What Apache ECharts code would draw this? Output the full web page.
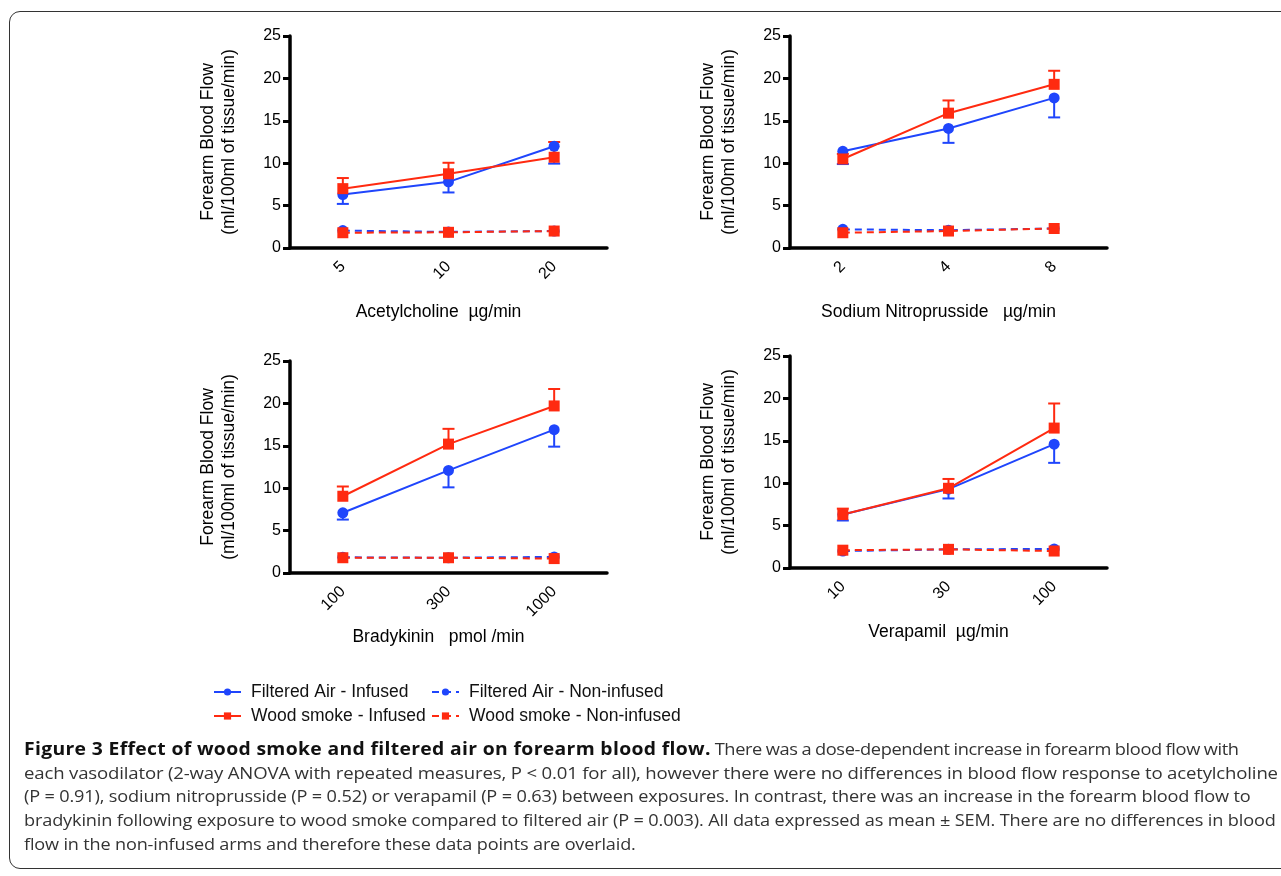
<!DOCTYPE html>
<html>
<head>
<meta charset="utf-8">
<script src="https://cdn.jsdelivr.net/npm/echarts@6/dist/echarts.min.js"></script>
<style>
  html, body { margin:0; padding:0; background:#fff; }
  #frame { position:absolute; left:9px; top:11px; width:1320px; height:858px; border:1.6px solid #333; border-radius:11px; box-sizing:border-box; }
  #chart { position:absolute; left:0; top:0; width:1281px; height:876px; }
  #caption { position:absolute; left:24px; top:737px; font-family:"Open Sans", Lato, sans-serif; font-size:16.6px; line-height:23.7px; color:#333; white-space:nowrap; letter-spacing:-0.15px; }
  #caption .ln { display:block; width:max-content; transform-origin:0 0; }
  #caption b { color:#111; font-weight:700; font-size:17.6px; letter-spacing:0.3px; }
  #caption .r1 { letter-spacing:-0.35px; word-spacing:-0.5px; }
</style>
</head>
<body>
<div id="frame"></div>
<div id="chart"></div>
<div id="caption">
<div class="ln" style="transform:scaleX(1.1)"><b>Figure 3 Effect of wood smoke and filtered air on forearm blood flow.</b><span class="r1"> There was a dose-dependent increase in forearm blood flow with</span></div>
<div class="ln" style="transform:scaleX(1.12)">each vasodilator (2-way ANOVA with repeated measures, P&nbsp;&lt;&nbsp;0.01 for all), however there were no differences in blood flow response to acetylcholine</div>
<div class="ln" style="transform:scaleX(1.094)">(P&nbsp;=&nbsp;0.91), sodium nitroprusside (P&nbsp;=&nbsp;0.52) or verapamil (P&nbsp;=&nbsp;0.63) between exposures. In contrast, there was an increase in the forearm blood flow to</div>
<div class="ln" style="transform:scaleX(1.095)">bradykinin following exposure to wood smoke compared to filtered air (P&nbsp;=&nbsp;0.003). All data expressed as mean&nbsp;±&nbsp;SEM. There are no differences in blood</div>
<div class="ln" style="transform:scaleX(1.09)">flow in the non-infused arms and therefore these data points are overlaid.</div>
</div>
<script>
// ---------- data ----------
const panelTitles = ['Acetylcholine  µg/min', 'Sodium Nitroprusside   µg/min', 'Bradykinin   pmol /min', 'Verapamil  µg/min'];
const achDoses = ['5', '10', '20'];
const snpDoses = ['2', '4', '8'];
const bkDoses  = ['100', '300', '1000'];
const verDoses = ['10', '30', '100'];
const yTicks = [0, 5, 10, 15, 20, 25];

const achFaInf = [6.3, 7.8, 12.0];   const achFaInfSem = [1.1, 1.25, 2.05];
const achWsInf = [7.0, 8.75, 10.7];  const achWsInfSem = [1.25, 1.3, 1.8];
const achFaNon = [2.05, 1.9, 2.0];
const achWsNon = [1.8, 1.85, 2.0];

const snpFaInf = [11.4, 14.1, 17.7]; const snpFaInfSem = [1.5, 1.7, 2.3];
const snpWsInf = [10.5, 15.9, 19.3]; const snpWsInfSem = [0.6, 1.5, 1.6];
const snpFaNon = [2.2, 2.1, 2.3];
const snpWsNon = [1.8, 2.0, 2.3];

const bkFaInf = [7.1, 12.1, 16.9];   const bkFaInfSem = [0.8, 2.0, 2.0];
const bkWsInf = [9.05, 15.2, 19.7];  const bkWsInfSem = [1.15, 1.8, 2.0];
const bkFaNon = [1.85, 1.8, 1.9];
const bkWsNon = [1.8, 1.8, 1.7];

const verFaInf = [6.3, 9.3, 14.6];   const verFaInfSem = [0.7, 1.1, 2.2];
const verWsInf = [6.3, 9.4, 16.5];   const verWsInfSem = [0.7, 1.1, 2.9];
const verFaNon = [2.0, 2.2, 2.25];
const verWsNon = [2.1, 2.2, 2.0];

const seriesNames = ['Filtered Air - Infused', 'Filtered Air - Non-infused', 'Wood smoke - Infused', 'Wood smoke - Non-infused'];

// ---------- layout ----------
const BLUE = '#1f45fc';
const RED = '#ff2a10';
const FONT = '"Liberation Sans", Arial, Helvetica, sans-serif';

const panels = [
  { doses: achDoses, faInf: achFaInf, faSem: achFaInfSem, wsInf: achWsInf, wsSem: achWsInfSem, faNon: achFaNon, wsNon: achWsNon },
  { doses: snpDoses, faInf: snpFaInf, faSem: snpFaInfSem, wsInf: snpWsInf, wsSem: snpWsInfSem, faNon: snpFaNon, wsNon: snpWsNon },
  { doses: bkDoses,  faInf: bkFaInf,  faSem: bkFaInfSem,  wsInf: bkWsInf,  wsSem: bkWsInfSem,  faNon: bkFaNon,  wsNon: bkWsNon },
  { doses: verDoses, faInf: verFaInf, faSem: verFaInfSem, wsInf: verWsInf, wsSem: verWsInfSem, faNon: verFaNon, wsNon: verWsNon }
];

const grids = [
  { left: 290, top: 36,  width: 317, height: 212 },
  { left: 790, top: 36,  width: 317, height: 212 },
  { left: 290, top: 361, width: 317, height: 212 },
  { left: 790, top: 356, width: 317, height: 212 }
];

const xAxes = [], yAxes = [], series = [];

function errSeries(gi, means, sems, dir, color) {
  return {
    type: 'custom', name: 'err', xAxisIndex: gi, yAxisIndex: gi, z: 1,
    silent: true,
    data: means.map((m, i) => [i, m, m + dir * sems[i]]),
    encode: { x: 0, y: [1, 2] },
    renderItem: function (params, api) {
      const x = api.value(0);
      const p0 = api.coord([x, api.value(1)]);
      const p1 = api.coord([x, api.value(2)]);
      const w = 6;
      return {
        type: 'group',
        children: [
          { type: 'line', shape: { x1: p0[0], y1: p0[1], x2: p1[0], y2: p1[1] }, style: { stroke: color, lineWidth: 2 } },
          { type: 'line', shape: { x1: p1[0] - w, y1: p1[1], x2: p1[0] + w, y2: p1[1] }, style: { stroke: color, lineWidth: 2 } }
        ]
      };
    }
  };
}

function lineSeries(gi, name, data, color, symbol, dashed) {
  return {
    type: 'line', name: name, xAxisIndex: gi, yAxisIndex: gi, z: dashed ? 3 : 2,
    data: data, symbol: symbol, symbolSize: 11,
    showAllSymbol: true,
    itemStyle: { color: color },
    lineStyle: { color: color, width: 2, type: dashed ? [7, 5] : 'solid' },
    emphasis: { disabled: true },
    animation: false
  };
}

panels.forEach((p, gi) => {
  xAxes.push({
    type: 'category', gridIndex: gi, data: p.doses, boundaryGap: true,
    axisLine: { lineStyle: { color: '#000', width: 3.5 } },
    axisTick: { alignWithLabel: true, length: 7, lineStyle: { color: '#000', width: 3 } },
    axisLabel: { rotate: 45, fontSize: 16, color: '#000', margin: 16, fontFamily: FONT },
    splitLine: { show: false },
    name: panelTitles[gi], nameLocation: 'middle', nameGap: 55,
    nameTextStyle: { fontSize: 17.5, color: '#000', fontFamily: FONT, padding: [0, 20, 0, 0] }
  });
  yAxes.push({
    type: 'value', gridIndex: gi, min: yTicks[0], max: yTicks[yTicks.length - 1], interval: yTicks[1] - yTicks[0],
    axisLine: { show: true, lineStyle: { color: '#000', width: 3.5 } },
    axisTick: { show: true, length: 7, lineStyle: { color: '#000', width: 3 } },
    axisLabel: { fontSize: 16, color: '#000', margin: 9, fontFamily: FONT },
    splitLine: { show: false },
    name: 'Forearm Blood Flow\n(ml/100ml of tissue/min)', nameLocation: 'middle', nameGap: 50,
    nameTextStyle: { fontSize: 17.5, color: '#000', fontFamily: FONT, lineHeight: 21 }
  });
  series.push(errSeries(gi, p.faInf, p.faSem, -1, BLUE));
  series.push(errSeries(gi, p.wsInf, p.wsSem, 1, RED));
  series.push(lineSeries(gi, seriesNames[0], p.faInf, BLUE, 'circle', false));
  series.push(lineSeries(gi, seriesNames[2], p.wsInf, RED, 'rect', false));
  series.push(lineSeries(gi, seriesNames[1], p.faNon, BLUE, 'circle', true));
  series.push(lineSeries(gi, seriesNames[3], p.wsNon, RED, 'rect', true));
});

const legendBase = {
  orient: 'horizontal', itemWidth: 27, itemHeight: 9, selectedMode: false, padding: 0,
  textStyle: { fontSize: 17.5, color: '#111', fontFamily: FONT, padding: [0, 0, 0, 5] }
};
const legends = [
  Object.assign({}, legendBase, { data: [seriesNames[0]], left: 213, top: 683 }),
  Object.assign({}, legendBase, { data: [seriesNames[1]], left: 431, top: 683 }),
  Object.assign({}, legendBase, { data: [seriesNames[2]], left: 213, top: 707 }),
  Object.assign({}, legendBase, { data: [seriesNames[3]], left: 431, top: 707 })
];

const chart = echarts.init(document.getElementById('chart'), null, { renderer: 'canvas' });
chart.setOption({
  backgroundColor: 'transparent',
  animation: false,
  legend: legends,
  grid: grids,
  xAxis: xAxes,
  yAxis: yAxes,
  series: series
});
</script>
</body>
</html>
